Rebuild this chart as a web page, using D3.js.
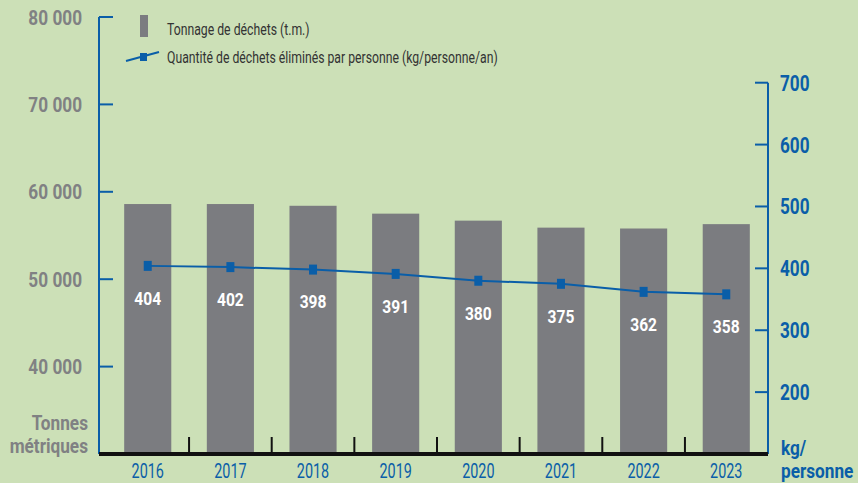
<!DOCTYPE html>
<html>
<head>
<meta charset="utf-8">
<script src="https://cdn.jsdelivr.net/npm/d3@7"></script>
<style>
  html, body { margin: 0; padding: 0; background: #cce0b7; }
  svg { display: block; }
</style>
</head>
<body>
<script>
// years, tonnage (t.m.) and kg/person/year
const years = ["2016", "2017", "2018", "2019", "2020", "2021", "2022", "2023"];
const tonnage = [58600, 58600, 58400, 57500, 56700, 55900, 55800, 56300];
const perPerson = [404, 402, 398, 391, 380, 375, 362, 358];
const leftTicks = [40000, 50000, 60000, 70000, 80000];
const rightTicks = [200, 300, 400, 500, 600, 700];

const W = 858, H = 483;
const blue = "#0a5ea8", grey = "#7b7c80", greyText = "#808183";
// narrow look: Roboto squeezed horizontally
const BOLD = 0.82, REG = 0.72;

const svg = d3.select("body").append("svg")
    .attr("width", W)
    .attr("height", H)
    .style("background", "#cce0b7")
    .style("font-family", "Roboto, 'Liberation Sans', sans-serif");

const at = (x, y, s) => `translate(${x},${y}) scale(${s},1)`;

const x0 = 99, x1 = 768, base = 454;

const x = d3.scaleBand()
    .domain(years)
    .range([106, 768])
    .paddingInner(0.43)
    .paddingOuter(0.22);

const yL = d3.scaleLinear().domain([30000, 80000]).range([base, 17]);
const yR = d3.scaleLinear().domain([100, 700]).range([base, 82.7]);

// bars
svg.append("g")
  .selectAll("rect")
  .data(years)
  .join("rect")
    .attr("x", d => x(d))
    .attr("width", x.bandwidth())
    .attr("y", (d, i) => yL(tonnage[i]))
    .attr("height", (d, i) => base - yL(tonnage[i]))
    .attr("fill", grey);

// left axis
const gl = svg.append("g").attr("transform", `translate(${x0},0)`);
gl.append("line").attr("y1", 17).attr("y2", base)
    .attr("stroke", blue).attr("stroke-width", 2);
gl.selectAll("line.t")
  .data(leftTicks)
  .join("line")
    .attr("class", "t")
    .attr("x1", 0).attr("x2", 14)
    .attr("y1", yL).attr("y2", yL)
    .attr("stroke", blue).attr("stroke-width", 2);
gl.selectAll("text")
  .data(leftTicks)
  .join("text")
    .attr("transform", d => at(-17, yL(d), BOLD))
    .attr("dy", "0.36em")
    .attr("text-anchor", "end")
    .attr("fill", greyText)
    .attr("font-weight", "bold")
    .attr("font-size", 21)
    .text(d => d3.format(",")(d).replace(",", " "));

// right axis
const gr = svg.append("g").attr("transform", `translate(${x1},0)`);
gr.append("line").attr("y1", yR(700)).attr("y2", base)
    .attr("stroke", blue).attr("stroke-width", 2);
gr.selectAll("line.t")
  .data(rightTicks)
  .join("line")
    .attr("class", "t")
    .attr("x1", -13).attr("x2", 0)
    .attr("y1", yR).attr("y2", yR)
    .attr("stroke", blue).attr("stroke-width", 2);
gr.selectAll("text")
  .data(rightTicks)
  .join("text")
    .attr("transform", d => at(12, yR(d), 0.78))
    .attr("dy", "0.36em")
    .attr("fill", blue)
    .attr("font-weight", "bold")
    .attr("font-size", 22)
    .text(d => d);

// baseline and separators
svg.append("line")
    .attr("x1", x0).attr("x2", x1)
    .attr("y1", base).attr("y2", base)
    .attr("stroke", "#111").attr("stroke-width", 4);
svg.append("g")
  .selectAll("line")
  .data(years.slice(1))
  .join("line")
    .attr("x1", d => x(d) - x.step() * x.paddingInner() / 2)
    .attr("x2", d => x(d) - x.step() * x.paddingInner() / 2)
    .attr("y1", base - 17).attr("y2", base)
    .attr("stroke", "#111").attr("stroke-width", 2);

// year labels
svg.append("g")
  .selectAll("text")
  .data(years)
  .join("text")
    .attr("transform", d => at(x(d) + x.bandwidth() / 2, 478, REG))
    .attr("text-anchor", "middle")
    .attr("fill", blue)
    .attr("font-size", 20)
    .text(d => d);

// axis titles
svg.append("g")
  .selectAll("text")
  .data(["Tonnes", "métriques"])
  .join("text")
    .attr("transform", (d, i) => at(88, 430 + i * 23, BOLD))
    .attr("text-anchor", "end")
    .attr("fill", greyText)
    .attr("font-weight", "bold")
    .attr("font-size", 21)
    .text(d => d);

svg.append("g")
  .selectAll("text")
  .data(["kg/", "personne"])
  .join("text")
    .attr("transform", (d, i) => at(781, 455 + i * 23, BOLD))
    .attr("fill", blue)
    .attr("font-weight", "bold")
    .attr("font-size", 21)
    .text(d => d);

// line series
const pts = years.map((d, i) => [x(d) + x.bandwidth() / 2, yR(perPerson[i])]);
svg.append("path")
    .attr("d", d3.line()(pts))
    .attr("fill", "none")
    .attr("stroke", blue)
    .attr("stroke-width", 2);
svg.append("g")
  .selectAll("rect")
  .data(pts)
  .join("rect")
    .attr("x", d => d[0] - 4)
    .attr("y", d => d[1] - 5)
    .attr("width", 8)
    .attr("height", 10)
    .attr("fill", blue);

svg.append("g")
  .selectAll("text")
  .data(pts)
  .join("text")
    .attr("transform", d => at(d[0], d[1] + 32, BOLD))
    .attr("dy", "0.36em")
    .attr("text-anchor", "middle")
    .attr("fill", "white")
    .attr("font-weight", "bold")
    .attr("font-size", 19)
    .text((d, i) => perPerson[i]);

// legend
const lg = svg.append("g");
lg.append("rect").attr("x", 140).attr("y", 15).attr("width", 8).attr("height", 22).attr("fill", grey);
lg.append("line").attr("x1", 126).attr("y1", 61).attr("x2", 159).attr("y2", 52)
    .attr("stroke", blue).attr("stroke-width", 2);
lg.append("rect").attr("x", 140).attr("y", 53).attr("width", 7).attr("height", 8).attr("fill", blue);
lg.append("text").attr("transform", at(167, 35, REG))
    .attr("font-size", 17).attr("fill", "#333")
    .text("Tonnage de déchets (t.m.)");
lg.append("text").attr("transform", at(167, 63, REG))
    .attr("font-size", 17).attr("fill", "#333")
    .text("Quantité de déchets éliminés par personne (kg/personne/an)");
</script>
</body>
</html>
